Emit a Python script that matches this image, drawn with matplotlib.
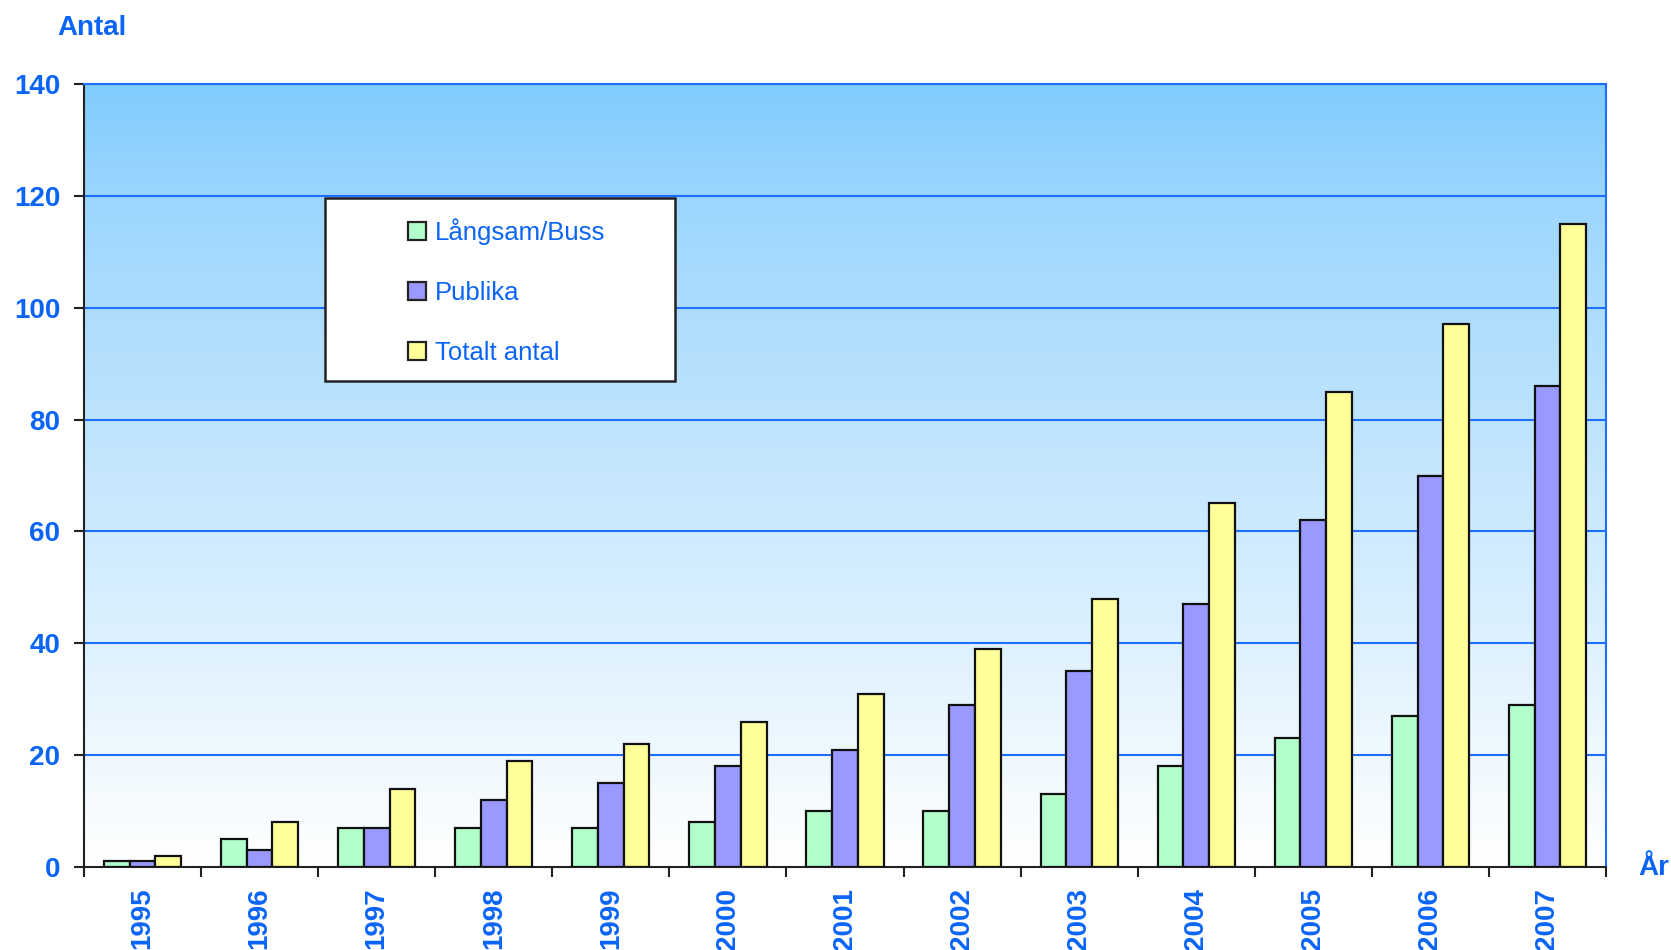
import numpy as np
import matplotlib
matplotlib.use("Agg")
import matplotlib.pyplot as plt
from matplotlib.patches import Rectangle, Patch
from matplotlib.colors import LinearSegmentedColormap

years = ["1995", "1996", "1997", "1998", "1999", "2000", "2001",
         "2002", "2003", "2004", "2005", "2006", "2007"]
langsam = [1, 5, 7, 7, 7, 8, 10, 10, 13, 18, 23, 27, 29]
publika = [1, 3, 7, 12, 15, 18, 21, 29, 35, 47, 62, 70, 86]
totalt = [2, 8, 14, 19, 22, 26, 31, 39, 48, 65, 85, 97, 115]
series_names = ["Långsam/Buss", "Publika", "Totalt antal"]
series_colors = ["#B3FFCC", "#9999FF", "#FFFF99"]
yticks = [0, 20, 40, 60, 80, 100, 120, 140]

TXT = "#0A64F5"
GRID = "#1E6EFF"
FONT = ["Liberation Sans", "DejaVu Sans"]
plt.rcParams['font.family'] = FONT

W, H = 1671, 950
fig = plt.figure(figsize=(W / 100, H / 100), dpi=100)
L, R, T, B = 84, 1606, 84, 867
ax = fig.add_axes([L / W, 1 - B / H, (R - L) / W, (B - T) / H])

n = len(years)
x = np.arange(n)
ax.set_xlim(-0.5, n - 0.5)
ax.set_ylim(0, 140)

# gradient background
cmap = LinearSegmentedColormap.from_list("bg", [(0, "#FFFFFF"), (0.85, "#9DD6FD"), (1, "#80CCFF")])
grad = np.linspace(0, 1, 256).reshape(-1, 1)
ax.imshow(grad, cmap=cmap, origin="lower", aspect="auto",
          extent=(-0.5, n - 0.5, 0, 140), zorder=0)

bw = 0.22
for i, (vals, col) in enumerate(zip([langsam, publika, totalt], series_colors)):
    ax.bar(x + (i - 1) * bw, vals, width=bw, color=col, edgecolor="#111111",
           linewidth=1.6, zorder=3)

for yv in yticks[1:]:
    ax.axhline(yv, color=GRID, lw=1.5, zorder=1)

ax.set_yticks(yticks)
ax.set_yticklabels([str(v) for v in yticks], color=TXT, fontsize=20, fontweight="bold")
ax.set_xticks(np.arange(n + 1) - 0.5, minor=False)
ax.set_xticklabels([""] * (n + 1))
ax.set_xticks(x, minor=True)
ax.set_xticklabels(years, minor=True, rotation=90, color=TXT, fontsize=20,
                   fontweight="bold", va="top")
ax.tick_params(axis="x", which="major", direction="out", length=7, width=1.5, color="#222222")
ax.tick_params(axis="x", which="minor", length=0, pad=15)
ax.tick_params(axis="y", direction="out", length=7, width=1.5, color="#222222", pad=10)

ax.spines["left"].set_color("#222222")
ax.spines["left"].set_linewidth(1.5)
ax.spines["bottom"].set_color("#222222")
ax.spines["bottom"].set_linewidth(1.5)
ax.spines["right"].set_color(GRID)
ax.spines["right"].set_linewidth(1.5)
ax.spines["top"].set_color(GRID)
ax.spines["top"].set_linewidth(1.5)

fig.text(92 / W, 1 - 28 / H, "Antal", color=TXT, fontsize=20, fontweight="bold",
         ha="center", va="center")
fig.text(1638 / W, 1 - 868 / H, "År", color=TXT, fontsize=20, fontweight="bold",
         ha="left", va="center")

# legend box
lx0, ly0, lx1, ly1 = 325, 198, 675, 381
fig.patches.append(Rectangle((lx0 / W, 1 - ly1 / H), (lx1 - lx0) / W, (ly1 - ly0) / H,
                             transform=fig.transFigure, facecolor="white",
                             edgecolor="#222222", linewidth=1.8, zorder=5))
handles = [Patch(facecolor=c, edgecolor="#222222", linewidth=1.6) for c in series_colors]
leg = fig.legend(handles, series_names, loc="center",
                 bbox_to_anchor=((lx0 + lx1) / 2 / W + 0.004, 1 - (ly0 + ly1) / 2 / H - 0.002),
                 frameon=False, fontsize=18.5, labelspacing=1.4, handlelength=0.7,
                 handleheight=0.7, handletextpad=0.35, labelcolor=TXT)
leg.set_zorder(6)

fig.savefig("out.png", dpi=100)
